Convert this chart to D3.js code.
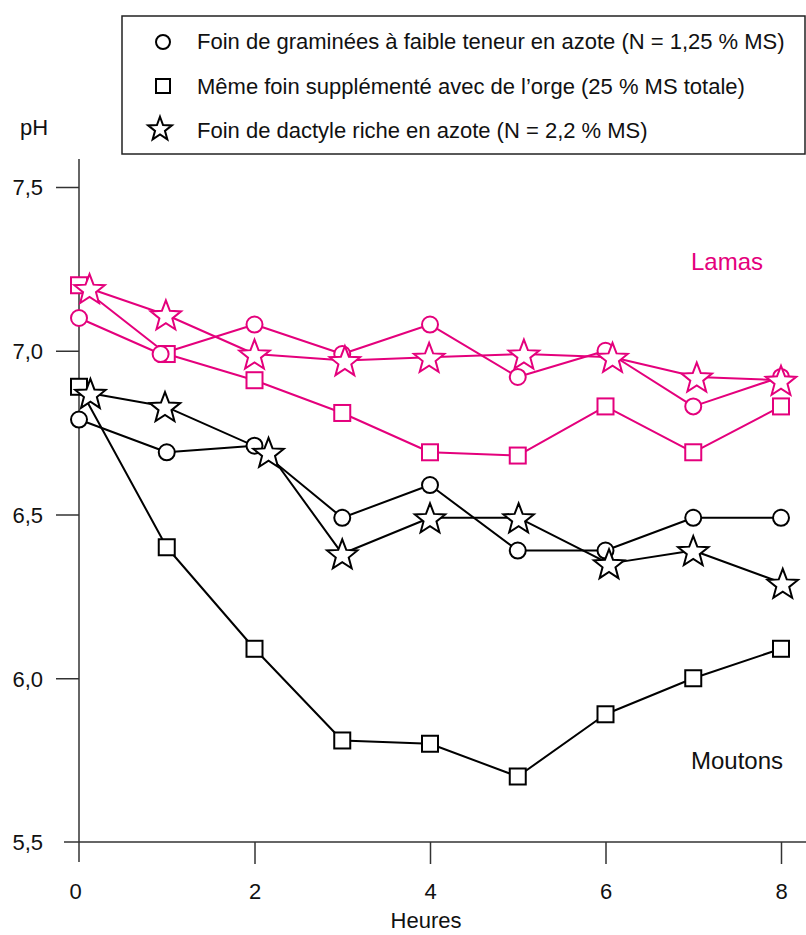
<!DOCTYPE html>
<html>
<head>
<meta charset="utf-8">
<script src="https://cdn.jsdelivr.net/npm/d3@7"></script>
<style>
  html, body { margin: 0; padding: 0; background: #fff; }
  svg { display: block; font-family: "Liberation Sans", Arial, Helvetica, sans-serif; }
</style>
</head>
<body>
<svg id="chart" width="806" height="935"></svg>
<script>
// ---- Data ----
const hours = [0, 1, 2, 3, 4, 5, 6, 7, 8];
const xTickValues = [0, 2, 4, 6, 8];
const yTickValues = [5.5, 6.0, 6.5, 7.0, 7.5];
const yTickLabels = ["5,5", "6,0", "6,5", "7,0", "7,5"];

const lamasCircleHours = [0, 0.93, 2, 3, 4, 5, 6, 7, 8];
const lamasCircle = [7.10, 6.99, 7.08, 6.99, 7.08, 6.92, 7.00, 6.83, 6.92];
const lamasSquare = [7.20, 6.99, 6.91, 6.81, 6.69, 6.68, 6.83, 6.69, 6.83];
const lamasStarHours = [0.12, 0.99, 2.0, 3.03, 3.99, 5.07, 6.08, 7.04, 8.0];
const lamasStar = [7.19, 7.11, 6.99, 6.97, 6.98, 6.99, 6.98, 6.92, 6.91];

const moutonsCircle = [6.79, 6.69, 6.71, 6.49, 6.59, 6.39, 6.39, 6.49, 6.49];
const moutonsSquare = [6.89, 6.40, 6.09, 5.81, 5.80, 5.70, 5.89, 6.00, 6.09];
const moutonsStarHours = [0.13, 0.98, 2.16, 3.0, 4.0, 5.01, 6.04, 7.0, 8.02];
const moutonsStar = [6.87, 6.83, 6.69, 6.38, 6.49, 6.49, 6.35, 6.39, 6.29];

const legendLabels = [
  "Foin de graminées à faible teneur en azote (N = 1,25 % MS)",
  "Même foin supplémenté avec de l’orge (25 % MS totale)",
  "Foin de dactyle riche en azote (N = 2,2 % MS)"
];
const legendShapes = ["circle", "square", "star"];

const MAGENTA = "#e4007c";
const BLACK = "#000";
const AXIS = "#333";

// ---- Scales ----
const svg = d3.select("#chart");
const x = d3.scaleLinear().domain([0, 8]).range([79, 781]);
const y = d3.scaleLinear().domain([5.5, 7.5]).range([842, 187]);

// ---- Axes ----
const axisG = svg.append("g");
axisG.append("line")
  .attr("x1", x(0)).attr("x2", x(0))
  .attr("y1", 159).attr("y2", 862)
  .attr("stroke", AXIS).attr("stroke-width", 1.5);
axisG.append("line")
  .attr("x1", 64).attr("x2", 806)
  .attr("y1", y(5.5)).attr("y2", y(5.5))
  .attr("stroke", AXIS).attr("stroke-width", 1.5);

const yAxis = d3.axisLeft(y)
  .tickValues(yTickValues)
  .tickSize(23)
  .tickPadding(13)
  .tickFormat((d, i) => yTickLabels[i]);
const yAxisG = svg.append("g").attr("transform", `translate(${x(0)},0)`).call(yAxis);
yAxisG.select(".domain").remove();
yAxisG.selectAll(".tick line").attr("stroke", AXIS).attr("stroke-width", 1.5);
yAxisG.selectAll(".tick text")
  .attr("font-size", 22).attr("fill", "#111")
  .attr("font-family", "Liberation Sans, Arial, sans-serif")
  .attr("dy", "0.36em");
yAxisG.selectAll(".tick").filter(d => d === 5.5).select("line").remove();

const xAxis = d3.axisBottom(x)
  .tickValues(xTickValues)
  .tickSize(22)
  .tickPadding(19)
  .tickFormat(d3.format("d"));
const xAxisG = svg.append("g").attr("transform", `translate(0,${y(5.5)})`).call(xAxis);
xAxisG.select(".domain").remove();
xAxisG.selectAll(".tick line").attr("stroke", AXIS).attr("stroke-width", 1.5);
xAxisG.selectAll(".tick").filter(d => d === 0).select("line").remove();
xAxisG.selectAll(".tick").filter(d => d === 0).select("text").attr("dx", "-4");
xAxisG.selectAll(".tick text")
  .attr("font-size", 22).attr("fill", "#111")
  .attr("font-family", "Liberation Sans, Arial, sans-serif");

// axis titles
svg.append("text").attr("x", 20).attr("y", 135)
  .attr("font-size", 22).attr("fill", "#111").text("pH");
svg.append("text").attr("x", 426).attr("y", 928)
  .attr("text-anchor", "middle")
  .attr("font-size", 22).attr("fill", "#111").text("Heures");

// ---- Marker helpers ----
function starPath(R, r) {
  const pts = [];
  for (let i = 0; i < 10; i++) {
    const rad = i % 2 === 0 ? R : r;
    const a = -Math.PI / 2 + i * Math.PI / 5;
    pts.push([rad * Math.cos(a), rad * Math.sin(a)]);
  }
  return "M" + pts.map(p => p[0].toFixed(2) + "," + p[1].toFixed(2)).join("L") + "Z";
}

function drawMarker(g, shape, cx, cy, color, size) {
  const sw = 2;
  if (shape === "circle") {
    g.append("circle").attr("cx", cx).attr("cy", cy).attr("r", size.r)
      .attr("fill", "#fff").attr("stroke", color).attr("stroke-width", sw);
  } else if (shape === "square") {
    g.append("rect").attr("x", cx - size.s / 2).attr("y", cy - size.s / 2)
      .attr("width", size.s).attr("height", size.s)
      .attr("fill", "#fff").attr("stroke", color).attr("stroke-width", sw);
  } else {
    g.append("path").attr("d", starPath(size.R, size.ri))
      .attr("transform", `translate(${cx},${cy + size.R * 0.1})`)
      .attr("fill", "#fff").attr("stroke", color).attr("stroke-width", sw)
      .attr("stroke-linejoin", "miter");
  }
}

const plotSize = { r: 8, s: 16, R: 16, ri: 6.8 };
const legendSize = { r: 7, s: 14, R: 12.5, ri: 5.2 };

// ---- Series ----
const series = [
  { xs: hours, ys: moutonsSquare, shape: "square", color: BLACK },
  { xs: hours, ys: moutonsCircle, shape: "circle", color: BLACK },
  { xs: moutonsStarHours, ys: moutonsStar, shape: "star", color: BLACK },
  { xs: hours, ys: lamasSquare, shape: "square", color: MAGENTA },
  { xs: lamasCircleHours, ys: lamasCircle, shape: "circle", color: MAGENTA },
  { xs: lamasStarHours, ys: lamasStar, shape: "star", color: MAGENTA }
];

const line = d3.line().x(d => x(d[0])).y(d => y(d[1]));
const linesG = svg.append("g");
const marksG = svg.append("g");
series.forEach(s => {
  const pts = s.ys.map((v, i) => [s.xs[i], v]);
  linesG.append("path").attr("d", line(pts))
    .attr("fill", "none").attr("stroke", s.color).attr("stroke-width", 2)
    .attr("stroke-linejoin", "round");
});
series.forEach(s => {
  const g = marksG.append("g");
  s.ys.forEach((v, i) => drawMarker(g, s.shape, x(s.xs[i]), y(v), s.color, plotSize));
});

// ---- Group labels ----
svg.append("text").attr("x", 691).attr("y", 270)
  .attr("font-size", 24).attr("fill", MAGENTA).text("Lamas");
svg.append("text").attr("x", 691).attr("y", 769)
  .attr("font-size", 24).attr("fill", "#111").text("Moutons");

// ---- Legend ----
const leg = svg.append("g");
leg.append("rect").attr("x", 122).attr("y", 16).attr("width", 683).attr("height", 138)
  .attr("fill", "#fff").attr("stroke", "#222").attr("stroke-width", 1.5);
const rowY = [42, 86, 128];
const textY = [49, 94, 138];
legendLabels.forEach((lab, i) => {
  drawMarker(leg, legendShapes[i], legendShapes[i] === "star" ? 160 : 163, rowY[i], BLACK, legendSize);
  leg.append("text").attr("x", 197).attr("y", textY[i])
    .attr("font-size", 22).attr("fill", "#111").text(lab);
});
</script>
</body>
</html>
